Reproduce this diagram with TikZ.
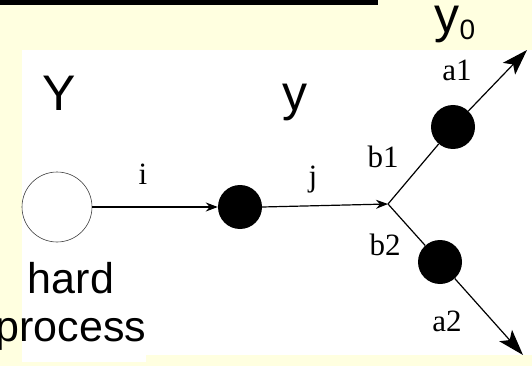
\documentclass[tikz,border=0pt]{standalone}
\usepackage{fontspec}
\newfontfamily\labsans{Liberation Sans}
\newfontfamily\labserif{Liberation Serif}
\usetikzlibrary{arrows.meta}
\definecolor{slidebg}{RGB}{255,255,224}

\begin{document}
\begin{tikzpicture}[x=1pt,y=-1pt,>=Stealth,
  blackdot/.style={circle,fill=black,inner sep=0pt,minimum size=44pt},
  leg/.style={line width=1.2pt},
  smalltip/.style={-{Stealth[length=12pt,width=9pt]}},
  bigtip/.style={-{Stealth[length=26pt,width=17pt,inset=6pt]}},
  partlbl/.style={font=\labserif\fontsize{31}{31}\selectfont,inner sep=0pt},
  biglbl/.style={font=\labsans\fontsize{50}{50}\selectfont,inner sep=0pt,anchor=base}]
\useasboundingbox (0,0) rectangle (532,366);
\fill[slidebg] (0,0) rectangle (532,366);
\fill[black] (0,0) rectangle (378,5);
\fill[white] (22,50) rectangle (532,355);
\fill[white] (22,355) rectangle (146,362);
% the cascade
\node[circle,draw=black!75,line width=0.6pt,inner sep=0pt,minimum size=70pt] (hp) at (57,207) {};
\node[blackdot] (blob) at (240,207) {};
\coordinate (split) at (388,204);
\node[blackdot] (d1) at (453,127) {};
\node[blackdot] (d2) at (440,262) {};
\coordinate (e1) at (527,50);
\coordinate (e2) at (523,355);
\draw[leg,smalltip] (hp.east) -- (blob.west);
\draw[leg,smalltip] (blob.east) -- (split);
\draw[leg] (split) -- (d1);
\draw[leg] (split) -- (d2);
\draw[leg,bigtip] (d1) -- (e1);
\draw[leg,bigtip] (d2) -- (e2);
% parton labels
\node[partlbl] (li) at (143,174) {i};
\node[partlbl] (lj) at (313,180) {j};
\node[partlbl] (lb1) at (383,157) {b1};
\node[partlbl] (lb2) at (385,245) {b2};
\node[partlbl] (la1) at (457,70) {a1};
\node[partlbl] (la2) at (447,321) {a2};
% slide text
\node[biglbl] (bigY) at (59,111) {Y};
\node[biglbl] (smally) at (295,111) {y};
\node[biglbl] (yzero) at (455,33) {y\raisebox{-7pt}{\fontsize{28}{28}\selectfont 0}};
\node[font=\labsans\fontsize{43}{48}\selectfont,align=center,inner sep=0pt,anchor=base] (hard) at (71,341) {hard\\process};
\end{tikzpicture}
\end{document}
